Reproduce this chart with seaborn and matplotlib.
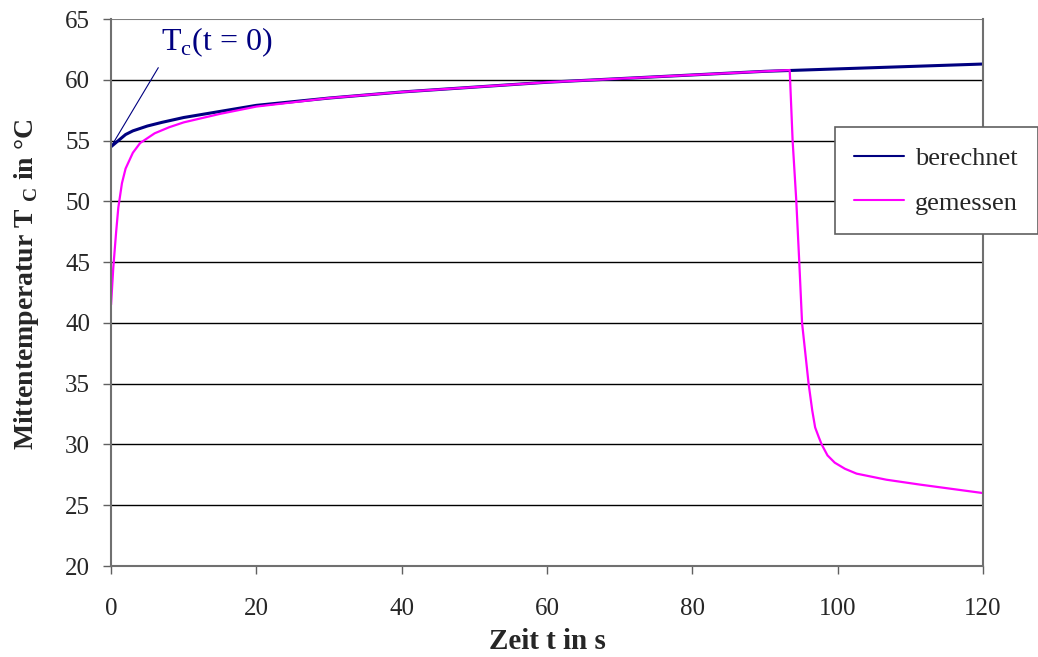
import numpy as np
import pandas as pd
import seaborn as sns
import matplotlib.pyplot as plt
from matplotlib.lines import Line2D

# calculated centre temperature
t_ber = [0, 1, 2, 3, 5, 7, 10, 13, 15, 20, 25, 30, 40, 50, 60, 70, 80, 90, 100, 110, 120]
T_ber = [54.5, 55.0, 55.5, 55.8, 56.2, 56.5, 56.9, 57.2, 57.4, 57.9, 58.2, 58.5, 59.0, 59.4,
         59.8, 60.1, 60.4, 60.7, 60.9, 61.1, 61.3]

# measured centre temperature
t_gem = [0, 0.3, 0.7, 1.0, 1.5, 2.0, 3.0, 4.0, 6.0, 8.0, 10, 15, 20, 30, 40, 50, 60, 70, 80,
         90, 93.4, 93.8, 94.3, 94.7, 95.1, 96.0, 96.5, 96.9, 97.4, 97.8, 98.6, 99.6, 101.0,
         102.6, 106.7, 111.3, 120]
T_gem = [41.5, 44.5, 47.5, 49.5, 51.5, 52.7, 54.0, 54.8, 55.6, 56.1, 56.5, 57.2, 57.8, 58.5,
         59.0, 59.4, 59.8, 60.1, 60.4, 60.7, 60.8, 55.0, 50.1, 45.2, 40.0, 35.0, 32.8, 31.4,
         30.6, 30.0, 29.1, 28.5, 28.0, 27.6, 27.1, 26.7, 26.0]

df = pd.concat([
    pd.DataFrame({'t': t_ber, 'T': T_ber, 'Serie': 'berechnet'}),
    pd.DataFrame({'t': t_gem, 'T': T_gem, 'Serie': 'gemessen'}),
])

sns.set_style('white')
plt.rcParams['font.family'] = ['Liberation Serif', 'DejaVu Serif']
plt.rcParams['mathtext.fontset'] = 'custom'
plt.rcParams['mathtext.rm'] = 'Liberation Serif'
plt.rcParams['mathtext.bf'] = 'Liberation Serif:bold'

fig = plt.figure(figsize=(10.38, 6.57), dpi=100)
ax = fig.add_axes([0.107, 0.1385, 0.840, 0.8325])

for y in range(25, 65, 5):
    ax.axhline(y, color='black', lw=1.0, zorder=0)
ax.axhline(65, color='#808080', lw=1.5, zorder=0)

sns.lineplot(data=df, x='t', y='T', hue='Serie', palette={'berechnet': '#000080', 'gemessen': '#ff00ff'},
             ax=ax, legend=False, sort=False, lw=1.6)
ax.lines[-2].set_linewidth(2.2)

ax.set_xlim(0, 120)
ax.set_ylim(20, 65)
ax.set_xticks(range(0, 121, 20))
ax.set_yticks(range(20, 66, 5))
ax.tick_params(axis='both', labelsize=18, direction='out', length=6, width=1, color='#606060',
               left=True, bottom=True)
ax.tick_params(axis='x', pad=17)
ax.tick_params(axis='y', pad=9)
for side in ['left', 'bottom', 'right']:
    ax.spines[side].set_color('#707070')
    ax.spines[side].set_linewidth(1.5)
ax.spines['top'].set_visible(False)

ax.set_xlabel('Zeit t in s', fontsize=21, fontweight='bold', labelpad=6)
ax.set_ylabel(r'Mittentemperatur T $_{\mathbf{C}}$ in °C', fontsize=20, fontweight='bold')
ax.yaxis.set_label_coords(-0.08, 0.5 + 8 / 547)

# annotation
ax.plot([0, 6.5], [54.5, 61.0], color='#000080', lw=0.8)
ax.text(6.9, 62.4, r'T$_\mathrm{c}$(t = 0)', fontsize=23, color='#000080', va='baseline')

# legend
handles = [Line2D([], [], color='#000080', lw=1.5, label='berechnet'),
           Line2D([], [], color='#ff00ff', lw=1.5, label='gemessen')]
leg = fig.legend(handles=handles, loc='upper left', bbox_to_anchor=(0.804, 0.807),
                 fontsize=19, frameon=True, fancybox=False, edgecolor='#606060', framealpha=1,
                 borderaxespad=0, handlelength=1.9, labelspacing=0.8, borderpad=0.75,
                 handletextpad=0.4)
leg.get_frame().set_linewidth(1.2)

fig.savefig('out.png', dpi=100)
